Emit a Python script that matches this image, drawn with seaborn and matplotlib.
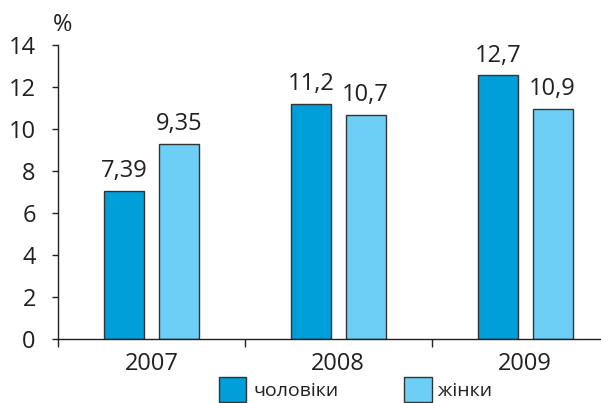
import matplotlib
matplotlib.use("Agg")
import matplotlib.pyplot as plt
from matplotlib.patches import Patch
import seaborn as sns
import pandas as pd

years = ["2007", "2008", "2009"]
series = ["чоловіки", "жінки"]
men = [7.07, 11.18, 12.55]
women = [9.3, 10.68, 10.94]
men_labels = ["7,39", "11,2", "12,7"]
women_labels = ["9,35", "10,7", "10,9"]
yticks = [0, 2, 4, 6, 8, 10, 12, 14]
unit = "%"

colors = {"чоловіки": "#009FDA", "жінки": "#6DCFF6"}

df = pd.DataFrame({
    "year": years * 2,
    "group": [series[0]] * 3 + [series[1]] * 3,
    "value": men + women,
})

sns.set_theme(style="white")
plt.rcParams["font.family"] = ["Open Sans", "DejaVu Sans"]
plt.rcParams["text.color"] = "#231f20"

fig = plt.figure(figsize=(6.01, 4.03), dpi=100)
W, H = 601, 403
ax = fig.add_axes([58 / W, 1 - 339 / H, 1 - 58 / W, (339 - 45) / H])

sns.barplot(data=df, x="year", y="value", hue="group", order=years,
            hue_order=series, palette=colors, width=0.587, gap=0.27,
            saturation=1, edgecolor="#333333", linewidth=1.0, ax=ax,
            legend=False, errorbar=None)

ax.set_yticks(yticks)
ax.set_yticklabels([str(v) for v in yticks])
ax.set_xticks(range(len(years)))
ax.set_xticklabels(years)
ax.set_xticks([-0.5, 0.5, 1.5], minor=True)
ax.set_xlim(-0.5, 2.406)
ax.set_ylim(0, 14)
ax.tick_params(axis="x", which="major", length=0, pad=9, labelsize=17,
               colors="#231f20")
ax.tick_params(axis="x", which="minor", length=6, width=1, color="#231f20",
               direction="out", bottom=True)
ax.tick_params(axis="y", which="major", length=4, width=1, color="#231f20",
               direction="out", pad=12, labelsize=17, left=True,
               labelcolor="#231f20")
ax.set_xlabel("")
ax.set_ylabel("")
for s in ["top", "right"]:
    ax.spines[s].set_visible(False)
for s in ["left", "bottom"]:
    ax.spines[s].set_color("#231f20")
    ax.spines[s].set_linewidth(1)
ax.set_facecolor("none")

labels_all = [men_labels, women_labels]
for cont, labs in zip(ax.containers, labels_all):
    for bar, lab in zip(cont, labs):
        ax.annotate(lab, (bar.get_x() + bar.get_width() / 2, bar.get_height()),
                    xytext=(0, 10), textcoords="offset points",
                    ha="center", va="baseline", fontsize=17, color="#231f20")

fig.text(63 / W, 1 - 25 / H, unit, ha="center", va="center", fontsize=17,
         color="#231f20")

handles = [Patch(facecolor=colors[s], edgecolor="#333333", linewidth=1.0)
           for s in series]
fig.legend(handles, series, loc="lower left",
           bbox_to_anchor=(219 / W, 1 / H), ncol=2, frameon=False,
           fontsize=14, handlelength=1.4, handleheight=1.6,
           handletextpad=0.35, columnspacing=3.4, borderpad=0,
           borderaxespad=0)

fig.savefig("out.png", dpi=100)
